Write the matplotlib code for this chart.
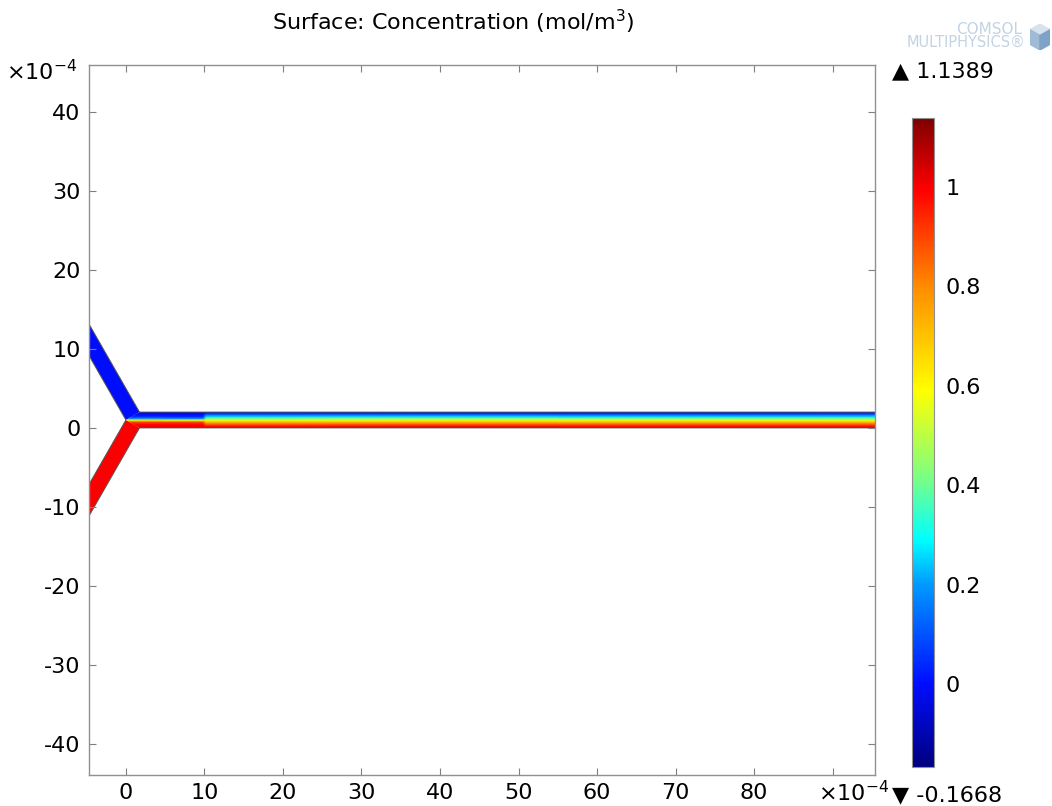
import numpy as np
import matplotlib
matplotlib.use("Agg")
import matplotlib.pyplot as plt
from matplotlib.patches import Polygon
from matplotlib.colors import Normalize, LinearSegmentedColormap

plt.rcParams["axes.unicode_minus"] = False

# color range of the surface plot
c_min, c_max = -0.1668, 1.1389

# channel geometry (units of 1e-4 m)
channel_width = 2.0
channel_end = 100.0
inlet_angle = 60.0
inlet_length = 20.0

# inlet concentrations
c_top_inlet = 0.0
c_bottom_inlet = 1.0

# concentration across the main channel, sampled at a few stations along x
station_x = [0.0, 9.8, 10.2, 100.0]
profile_y = [0.0, 0.25, 0.5, 0.75, 1.0, 1.25, 1.5, 1.75, 2.0]
profile_near = [1.05, 1.0, 0.98, 0.9, 0.55, 0.15, 0.03, 0.0, -0.05]
profile_far = [1.08, 0.97, 0.86, 0.72, 0.56, 0.4, 0.24, 0.1, -0.08]

x_ticks = [0, 10, 20, 30, 40, 50, 60, 70, 80]
y_ticks = [-40, -30, -20, -10, 0, 10, 20, 30, 40]
cbar_ticks = [0, 0.2, 0.4, 0.6, 0.8, 1]
cbar_labels = ["0", "0.2", "0.4", "0.6", "0.8", "1"]

# rainbow color table
rainbow = LinearSegmentedColormap.from_list("rainbow_ct", [
    (0.0, (0.0, 0.0, 0.5)),
    (0.128, (0.0, 0.05, 1.0)),
    (0.28, (0.0, 0.6, 1.0)),
    (0.35, (0.0, 1.0, 1.0)),
    (0.45, (0.5, 1.0, 0.5)),
    (0.58, (1.0, 1.0, 0.0)),
    (0.74, (1.0, 0.55, 0.0)),
    (0.89, (1.0, 0.0, 0.0)),
    (1.0, (0.5, 0.0, 0.0)),
])
norm = Normalize(vmin=c_min, vmax=c_max)
fs = 16

fig = plt.figure(figsize=(10.52, 8.06), dpi=100)
ax = fig.add_axes([89/1052, 1-775/806, 786/1052, 710/806])
ax.set_xlim(-4.7, 95.4)
ax.set_ylim(-43.9, 45.9)

# junction points
a = np.radians(inlet_angle)
tip = np.array([0.0, channel_width/2])
n_up = np.array([np.sin(a), np.cos(a)])        # normal of the upper inlet
d_up = np.array([-np.cos(a), np.sin(a)])
d_dn = np.array([-np.cos(a), -np.sin(a)])
corner_up = tip + channel_width*n_up
corner_dn = np.array([corner_up[0], 0.0])

# inlets
up_poly = [tip, corner_up, corner_up + inlet_length*d_up, tip + inlet_length*d_up]
dn_poly = [tip, corner_dn, corner_dn + inlet_length*d_dn, tip + inlet_length*d_dn]
ax.add_patch(Polygon(up_poly, closed=True, facecolor=rainbow(norm(c_top_inlet)), edgecolor="none"))
ax.add_patch(Polygon(dn_poly, closed=True, facecolor=rainbow(norm(c_bottom_inlet)), edgecolor="none"))

# main channel field
C = np.array([profile_near, profile_near, profile_far, profile_far]).T
X, Y = np.meshgrid(station_x, profile_y)
mesh = ax.pcolormesh(X, Y, C, cmap=rainbow, norm=norm, shading="gouraud")
chan_poly = Polygon([tip, corner_up, (channel_end, channel_width), (channel_end, 0), corner_dn],
                    closed=True, transform=ax.transData, facecolor="none", edgecolor="none")
ax.add_patch(chan_poly)
mesh.set_clip_path(chan_poly)

# domain outline
outline = [tip + inlet_length*d_up, tip, tip + inlet_length*d_dn,
           corner_dn + inlet_length*d_dn, corner_dn, (channel_end, 0),
           (channel_end, channel_width), corner_up, corner_up + inlet_length*d_up]
ax.add_patch(Polygon(outline, closed=True, facecolor="none", edgecolor="#555555", lw=0.7))

ax.set_xticks(x_ticks + [90])
ax.set_xticklabels([str(t) for t in x_ticks] + [""])
ax.set_yticks(y_ticks)
ax.tick_params(direction="in", length=5, width=0.8, color="#808080",
               top=True, right=True, labelsize=fs, pad=6)
for s in ax.spines.values():
    s.set_color("#909090")
    s.set_linewidth(1.0)

fig.text(453/1052, 1-22/806, "Surface: Concentration (mol/m$^3$)",
         ha="center", va="center", fontsize=fs)
fig.text(6/1052, 1-72/806, r"$\times$10$^{-4}$", ha="left", va="center", fontsize=fs)
fig.text(818/1052, 1-793/806, r"$\times$10$^{-4}$", ha="left", va="center", fontsize=fs)

# colorbar
cax = fig.add_axes([912/1052, 1-767/806, 22/1052, 649/806])
cb = fig.colorbar(mesh, cax=cax)
cb.set_ticks(cbar_ticks)
cb.set_ticklabels(cbar_labels)
cax.tick_params(length=0, labelsize=fs, pad=8)
cb.outline.set_edgecolor("#909090")
cb.outline.set_linewidth(0.8)

fig.text(892/1052, 1-71/806, "\u25b2 1.1389", ha="left", va="center", fontsize=fs)
fig.text(892/1052, 1-795/806, "\u25bc -0.1668", ha="left", va="center", fontsize=fs)

# logo
fig.text(1022/1052, 1-29/806, "COMSOL", ha="right", va="center",
         fontsize=11, color="#c3d3e4")
fig.text(1025/1052, 1-42/806, "MULTIPHYSICS\u00ae", ha="right", va="center",
         fontsize=10.5, color="#c3d3e4")
cube = fig.add_axes([1030/1052, 1-50/806, 20/1052, 26/806])
cube.axis("off")
cube.set_xlim(0, 1)
cube.set_ylim(0, 1)
cube.add_patch(Polygon([(0.5, 1), (1, 0.78), (0.5, 0.56), (0, 0.78)], color="#d6e3ef"))
cube.add_patch(Polygon([(0, 0.78), (0.5, 0.56), (0.5, 0), (0, 0.22)], color="#9fbbd6"))
cube.add_patch(Polygon([(0.5, 0.56), (1, 0.78), (1, 0.22), (0.5, 0)], color="#7fa3c6"))

fig.savefig("out.png", dpi=100)
